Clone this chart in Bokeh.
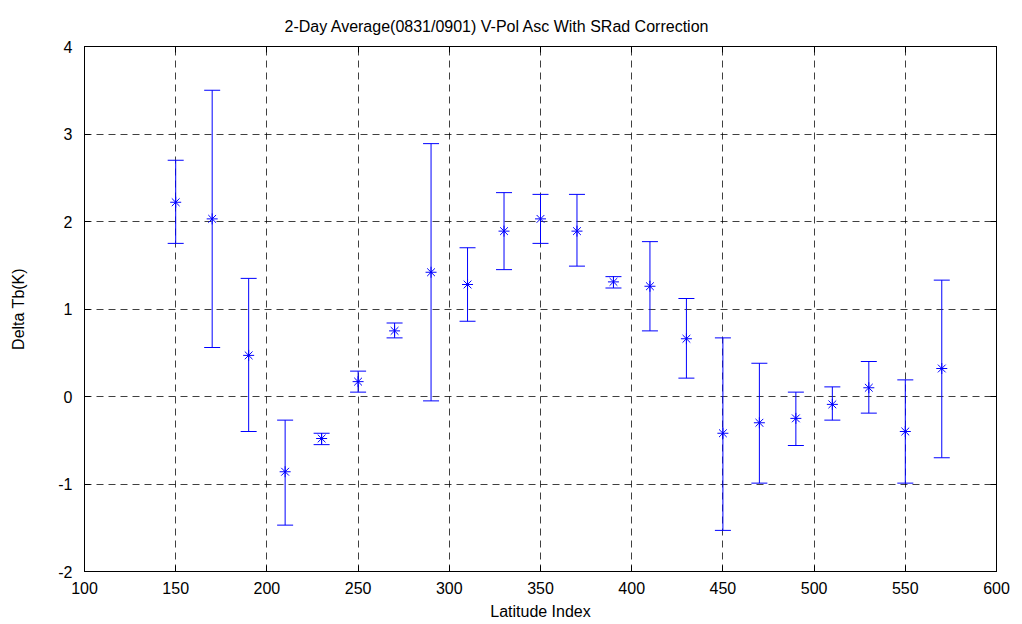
from bokeh.plotting import figure
from bokeh.models import ColumnDataSource, Whisker, TeeHead, LinearAxis, FixedTicker, Title
from bokeh.embed import file_html
from bokeh.resources import INLINE

lat_index = [150, 170, 190, 210, 230, 250, 270, 290, 310, 330, 350,
             370, 390, 410, 430, 450, 470, 490, 510, 530, 550, 570]
delta_tb = [2.22, 2.03, 0.47, -0.86, -0.48, 0.17, 0.75, 1.42, 1.28, 1.89, 2.03,
            1.89, 1.31, 1.26, 0.66, -0.42, -0.30, -0.25, -0.09, 0.10, -0.40, 0.32]
upper = [2.70, 3.50, 1.35, -0.27, -0.42, 0.29, 0.84, 2.89, 1.70, 2.33, 2.31,
         2.31, 1.37, 1.77, 1.12, 0.67, 0.38, 0.05, 0.11, 0.40, 0.19, 1.33]
lower = [1.75, 0.56, -0.40, -1.47, -0.55, 0.05, 0.67, -0.05, 0.86, 1.45, 1.75,
         1.49, 1.24, 0.75, 0.21, -1.53, -0.99, -0.56, -0.27, -0.19, -0.99, -0.70]

x_ticks = [100, 150, 200, 250, 300, 350, 400, 450, 500, 550, 600]
y_ticks = [-2, -1, 0, 1, 2, 3, 4]

src = ColumnDataSource(dict(x=lat_index, y=delta_tb, upper=upper, lower=lower))

FONT = "Liberation Sans"

p = figure(width=1010, height=622, x_range=(100, 600), y_range=(-2, 4),
           output_backend="svg", toolbar_location=None,
           min_border_left=84, min_border_right=14, min_border_top=46, min_border_bottom=51,
           x_axis_label="Latitude Index", y_axis_label="Delta Tb(K)")
p.title = Title(text="2-Day Average(0831/0901) V-Pol Asc With SRad Correction",
                align="left", offset=200, standoff=24, text_font=FONT, text_font_size="16px",
                text_font_style="normal", text_color="black")

p.xaxis.ticker = FixedTicker(ticks=x_ticks)
p.yaxis.ticker = FixedTicker(ticks=y_ticks)
p.yaxis.major_label_overrides = {t: str(t) for t in y_ticks}
for ax in (p.xaxis + p.yaxis):
    ax.major_tick_in = 6
    ax.major_tick_out = 0
    ax.minor_tick_line_color = None
    ax.axis_line_color = "black"
    ax.major_tick_line_color = "black"
    ax.major_label_text_font = FONT
    ax.major_label_text_font_size = "16px"
    ax.major_label_text_color = "black"
    ax.axis_label_text_font = FONT
    ax.axis_label_text_font_size = "16px"
    ax.axis_label_text_font_style = "normal"
    ax.axis_label_text_color = "black"
p.xaxis.major_label_standoff = 10
p.xaxis.axis_label_standoff = 6
p.yaxis.major_label_standoff = 12
p.yaxis.axis_label_standoff = 28

for loc in ("above", "right"):
    ticks = x_ticks if loc == "above" else y_ticks
    a = LinearAxis(ticker=FixedTicker(ticks=ticks),
                   major_tick_in=6, major_tick_out=0, minor_tick_line_color=None,
                   major_label_overrides={t: "" for t in ticks},
                   major_label_standoff=0, axis_line_color="black")
    p.add_layout(a, loc)

p.grid.grid_line_color = "black"
p.grid.grid_line_alpha = 0.75
p.grid.grid_line_dash = "7 5"
p.grid.grid_line_width = 1
p.outline_line_color = "black"

p.add_layout(Whisker(source=src, base="x", upper="upper", lower="lower",
                     line_color="blue", line_width=1,
                     upper_head=TeeHead(size=16, line_color="blue", line_width=1),
                     lower_head=TeeHead(size=16, line_color="blue", line_width=1)))
p.scatter("x", "y", source=src, marker="asterisk", size=11, line_color="blue", line_width=1)

open("out.html", "w").write(file_html(p, INLINE))
